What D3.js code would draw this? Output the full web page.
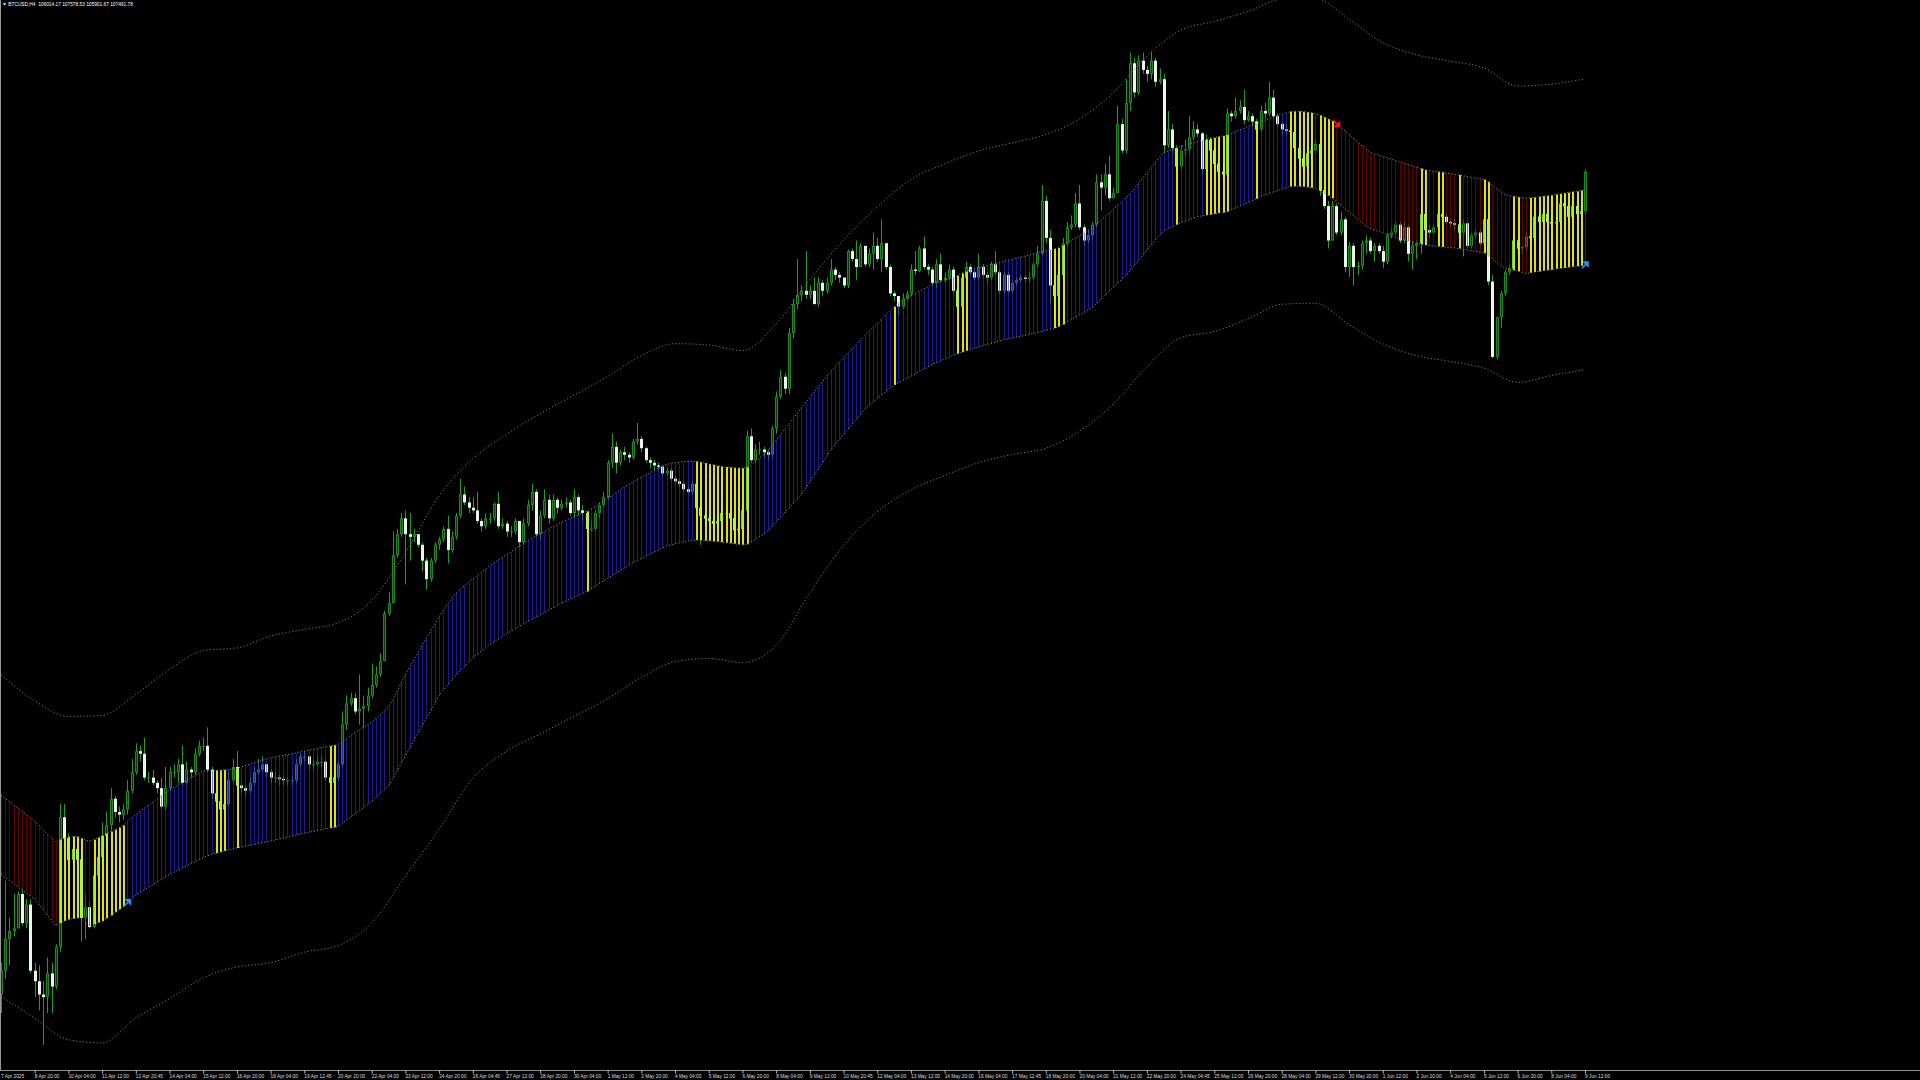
<!DOCTYPE html>
<html><head><meta charset="utf-8">
<script src="https://cdn.jsdelivr.net/npm/d3@7"></script>
<style>html,body{margin:0;padding:0;background:#000;overflow:hidden}svg{display:block}</style>
</head><body><svg id="c" width="1920" height="1080"></svg>
<script>
// ---------- DATA (prices in thousands USD, BTCUSD H4) ----------
const header = "BTCUSD,H4  106014.17 107578.53 105901.67 107491.78";
const firstOpen = 76.4;
const closes = [
77.3,78.5,78.8,78.9,80.2,79.1,79.8,77.3,76.9,76.4,
76.3,77.2,76.7,78.2,83.1,82.3,81.5,81.9,81.5,79.3,
79.7,78.95,80.9,81.6,82.4,82.8,83.8,83.3,83.2,83.4,
84.1,84.8,85.6,85.5,84.6,84.6,84.4,84.2,83.5,84.2,
84.8,84.8,85.1,84.4,84.9,84.8,85.5,85.8,85.8,84.9,
84.0,83.7,83.4,83.6,84.5,85.0,84.3,84.2,84.1,84.4,
84.8,84.9,85.1,84.8,84.6,84.6,84.55,84.5,84.5,84.5,
85.1,85.4,85.4,85.1,85.1,85.2,85.2,84.6,84.4,84.6,
85.1,86.6,87.4,87.6,87.1,87.2,87.3,87.7,88.1,88.5,
89.0,90.8,91.2,93.0,93.8,94.4,93.8,93.7,93.8,93.4,
92.8,92.1,92.8,93.4,93.6,94.0,93.2,93.7,94.5,95.3,
95.0,94.8,94.7,94.3,94.1,94.4,94.4,94.95,94.1,94.2,
93.9,93.9,94.3,93.5,94.2,94.9,95.4,93.8,94.5,95.1,
94.4,95.1,94.8,94.95,95.0,94.6,95.2,94.7,94.6,94.0,
94.0,94.6,94.9,95.2,96.5,97.1,96.5,96.9,96.8,96.7,
97.3,97.4,97.05,96.6,96.5,96.4,96.35,96.1,96.2,95.9,
95.8,95.7,95.5,95.4,95.7,94.8,94.5,94.4,94.3,94.2,
94.3,94.6,94.6,94.4,93.95,94.0,94.7,97.5,96.6,97.0,
97.0,96.9,96.8,97.8,99.0,99.75,99.3,101.4,102.5,102.85,
103.0,102.85,103.0,102.5,103.3,103.0,103.3,103.8,103.6,103.5,
103.2,104.5,104.2,103.9,104.7,104.0,104.4,104.7,104.2,104.8,
103.9,102.9,102.8,102.4,102.7,102.9,103.8,103.75,104.6,103.9,
103.8,103.3,104.0,103.4,103.5,103.8,103.0,102.4,103.5,103.9,
103.7,103.5,103.9,103.6,103.5,104.0,103.7,103.0,103.6,103.0,
103.3,103.4,103.5,103.45,103.5,104.0,104.4,106.4,105.0,103.2,
102.8,103.6,104.8,105.4,105.5,106.3,105.4,104.9,105.1,105.5,
107.1,106.9,107.4,106.5,106.7,109.3,108.3,110.1,111.6,110.5,
111.7,111.35,111.2,111.7,110.9,111.0,108.5,109.1,108.4,107.7,
108.3,108.35,108.8,109.1,108.95,107.6,108.7,108.3,107.8,107.5,
107.4,109.7,109.6,109.8,109.95,109.45,109.6,109.4,109.1,109.8,
109.7,110.3,109.6,109.3,109.1,109.05,109.0,108.4,108.0,107.7,
108.2,108.3,108.55,106.8,106.2,104.9,106.2,105.2,105.7,103.9,
104.7,103.9,103.95,104.8,104.9,104.5,104.7,104.5,104.1,105.1,
105.2,105.5,104.9,105.4,104.4,104.7,104.8,105.9,105.3,105.2,
105.4,105.9,105.8,105.6,105.55,105.5,105.2,105.55,104.7,105.1,
105.2,104.8,105.7,103.35,100.5,102.0,102.9,103.7,103.85,104.9,
104.6,104.65,105.05,105.0,105.8,105.6,105.9,105.6,105.55,105.6,
106.3,106.2,105.8,106.2,105.9,106.01417,107.49178];
const highs = [
77.6,80.7,79.3,80.2,80.3,80.4,80.0,80.0,77.6,77.5,
76.9,77.8,77.6,78.3,83.6,83.6,82.5,82.2,82.0,81.7,
80.2,79.9,81.2,81.9,82.9,83.3,84.2,83.9,83.5,83.6,
84.5,85.3,85.9,85.8,86.1,84.8,84.9,84.5,84.6,85.0,
85.0,85.1,85.3,85.8,85.2,85.0,85.7,86.0,86.1,86.5,
85.0,84.1,83.9,83.8,84.8,85.3,85.6,84.4,84.3,84.6,
85.0,85.3,85.4,85.1,84.9,84.8,84.7,84.7,84.6,84.7,
85.3,85.5,85.6,85.4,85.3,85.4,85.4,85.3,84.7,84.8,
85.2,87.1,87.7,87.8,87.8,88.5,87.7,88.0,88.9,88.8,
89.3,90.9,91.6,93.9,94.0,94.6,94.7,94.6,94.0,93.8,
93.5,92.9,92.9,93.5,93.7,94.1,94.5,93.9,94.6,95.9,
95.6,95.2,95.2,95.4,94.4,94.6,94.6,95.0,95.4,94.4,
94.3,94.1,94.4,94.3,94.4,95.1,95.7,95.5,94.7,95.5,
95.3,95.3,95.2,95.1,95.2,95.1,95.5,95.3,94.9,94.6,
94.3,94.7,95.0,95.4,96.6,97.6,97.3,97.0,97.1,96.9,
97.4,98.0,97.5,97.1,96.7,96.6,96.5,96.4,96.3,96.3,
96.0,95.9,95.8,95.6,95.8,95.8,94.9,94.6,94.5,94.4,
94.5,94.8,94.8,94.7,94.5,94.2,94.9,97.7,97.8,97.2,
97.3,97.1,97.0,97.9,99.2,100.0,99.9,101.6,102.7,104.2,
103.2,104.5,103.2,103.5,103.5,103.4,103.5,104.2,103.9,103.7,
103.5,104.55,104.6,104.9,104.8,104.7,104.6,105.2,105.0,105.7,
104.8,104.0,103.0,102.8,102.9,103.0,104.0,104.5,104.7,105.05,
104.0,103.9,104.2,104.4,103.7,104.0,103.9,103.1,103.7,104.1,
104.0,103.8,104.4,104.0,103.7,104.1,104.5,103.8,103.7,103.7,
103.4,103.5,103.6,103.6,103.7,104.1,104.7,107.0,106.6,105.3,
103.6,103.9,105.0,105.6,105.85,106.7,107.0,105.5,105.3,105.6,
107.4,107.4,107.8,108.1,106.9,110.0,109.5,111.0,112.0,111.8,
111.9,112.0,111.5,112.04,111.8,111.4,111.2,109.8,109.3,108.5,
108.5,108.7,109.6,109.4,109.3,109.0,108.9,108.8,108.4,107.9,
107.8,109.9,109.8,110.3,110.2,110.6,109.8,109.7,109.5,110.0,
110.1,110.9,110.6,109.7,109.4,109.3,109.2,109.0,108.6,108.2,
108.4,108.5,108.7,108.6,106.9,106.4,106.4,106.3,106.0,105.8,
104.85,104.8,104.1,104.9,105.1,105.0,104.8,104.8,104.7,105.2,
105.4,105.6,105.6,105.6,105.5,104.9,104.9,106.4,106.0,105.5,
105.5,106.1,106.0,105.9,105.7,105.7,105.6,105.7,105.6,105.2,
105.3,105.3,105.9,106.0,103.6,102.0,103.0,103.8,104.0,105.0,
105.0,104.7,105.2,105.3,106.0,105.9,106.1,106.0,105.8,105.8,
106.5,106.5,106.3,106.3,106.2,106.3,107.57853];
const lows = [
75.7,77.0,77.5,78.6,78.9,79.0,78.9,77.2,76.3,75.8,
74.5,75.7,75.7,76.6,78.0,82.2,81.3,81.3,81.3,78.4,
78.5,78.9,78.9,80.6,81.4,82.2,82.6,83.1,82.9,83.0,
83.2,84.0,84.7,85.2,84.5,84.4,84.3,84.0,83.4,83.4,
84.1,84.6,84.4,84.3,84.3,84.6,84.7,85.4,85.6,84.8,
83.8,83.5,83.2,83.3,83.5,84.4,84.2,84.0,83.9,84.0,
84.3,84.7,84.8,84.6,84.4,84.4,84.3,84.3,84.3,84.3,
84.4,85.0,85.2,84.9,84.9,85.0,85.0,84.5,84.2,84.2,
84.5,85.0,86.4,87.3,87.0,86.6,86.5,87.1,87.6,88.0,
88.4,89.0,90.7,91.2,92.9,93.7,91.9,92.8,93.5,93.3,
92.4,91.7,92.0,92.7,93.2,93.5,92.7,93.1,93.6,94.4,
94.9,94.6,94.6,94.2,93.9,94.0,94.2,94.3,94.0,94.0,
93.7,93.7,93.8,93.3,93.4,94.1,94.7,93.7,93.6,94.4,
94.2,94.3,94.6,94.7,94.8,94.5,94.4,94.5,94.3,93.8,
93.9,93.9,94.4,94.8,95.1,96.3,96.1,96.4,96.6,96.5,
96.6,97.2,96.9,96.5,96.3,96.2,96.2,96.0,96.0,95.8,
95.7,95.6,95.4,95.3,95.3,94.7,93.4,94.2,94.1,94.0,
94.1,94.2,94.4,94.3,93.5,93.8,93.9,94.6,96.5,96.5,
96.8,96.7,96.6,96.7,97.6,98.9,99.1,99.1,101.2,102.3,
102.6,102.7,102.7,102.47,102.4,102.8,102.9,103.2,103.4,103.3,
103.1,103.1,104.1,103.4,103.9,103.9,103.9,103.8,104.1,103.7,
103.8,102.8,102.6,102.1,102.3,102.6,102.8,103.6,103.7,103.8,
103.6,103.2,103.1,103.3,103.3,103.4,102.9,102.3,102.3,103.4,
103.6,103.4,103.4,103.5,103.3,103.4,103.6,102.9,102.9,102.9,
102.9,103.2,103.3,103.3,103.3,103.4,103.9,104.3,104.8,102.5,
101.9,102.6,103.4,104.7,105.3,105.4,105.3,104.7,104.8,104.9,
105.4,106.05,106.6,106.4,106.5,106.7,108.2,108.2,109.8,110.3,
110.4,111.2,110.9,111.0,110.7,110.8,108.2,108.4,108.2,107.5,
107.6,108.1,108.2,108.7,108.8,107.4,107.4,108.0,107.6,107.3,
107.2,107.3,109.4,109.5,109.7,109.3,109.4,109.2,108.9,109.0,
109.5,109.6,109.5,109.2,108.9,108.9,108.8,108.2,107.8,107.5,
107.6,108.0,108.3,106.6,106.1,104.6,104.9,105.1,105.1,103.7,
103.53,103.2,103.6,103.8,104.4,104.4,104.1,104.4,103.85,104.0,
105.0,105.1,104.8,104.8,104.1,103.8,104.2,104.4,105.1,105.0,
105.2,105.3,105.6,105.5,105.4,105.3,105.0,104.3,104.6,104.6,
105.0,104.7,104.7,103.2,100.45,100.4,101.6,102.8,103.6,103.8,
104.4,104.4,104.5,104.8,104.9,105.5,105.5,105.4,105.4,105.4,
105.5,106.0,105.6,105.7,105.8,105.8,105.90167];
const bandTop = [
83.93,83.81,83.69,83.56,83.44,83.32,83.2,83.07,82.95,82.79,
82.63,82.47,82.31,82.15,82.25,82.32,82.36,82.37,82.37,82.3,
82.24,82.2,82.25,82.33,82.4,82.48,82.56,82.63,82.71,82.79,
82.93,83.07,83.2,83.32,83.44,83.55,83.67,83.79,83.91,84.02,
84.14,84.23,84.32,84.41,84.5,84.59,84.67,84.76,84.85,84.86,
84.86,84.87,84.88,84.89,84.9,84.92,84.95,85.0,85.05,85.1,
85.15,85.2,85.25,85.3,85.35,85.38,85.41,85.44,85.47,85.5,
85.53,85.57,85.6,85.63,85.66,85.7,85.73,85.76,85.79,85.82,
85.85,85.96,86.07,86.19,86.3,86.4,86.5,86.6,86.7,86.84,
86.98,87.13,87.27,87.55,87.85,88.18,88.5,88.78,89.05,89.33,
89.6,89.88,90.15,90.42,90.68,90.93,91.16,91.37,91.56,91.72,
91.86,91.99,92.11,92.23,92.35,92.48,92.6,92.71,92.82,92.92,
93.03,93.13,93.24,93.34,93.45,93.55,93.64,93.73,93.81,93.9,
93.99,94.08,94.16,94.25,94.32,94.39,94.45,94.52,94.59,94.66,
94.75,94.84,94.95,95.05,95.16,95.26,95.37,95.47,95.58,95.68,
95.77,95.86,95.95,96.03,96.12,96.2,96.29,96.38,96.44,96.47,
96.5,96.52,96.54,96.55,96.55,96.55,96.52,96.49,96.45,96.42,
96.38,96.36,96.34,96.32,96.31,96.3,96.29,96.32,96.42,96.54,
96.67,96.8,96.95,97.15,97.35,97.55,97.76,97.96,98.16,98.37,
98.58,98.78,98.97,99.17,99.37,99.56,99.76,99.95,100.14,100.31,
100.47,100.64,100.8,100.97,101.14,101.3,101.46,101.62,101.77,101.93,
102.09,102.25,102.4,102.53,102.64,102.73,102.81,102.9,102.98,103.07,
103.15,103.24,103.31,103.36,103.4,103.45,103.49,103.57,103.65,103.72,
103.8,103.84,103.88,103.92,103.95,103.99,104.03,104.07,104.11,104.15,
104.19,104.23,104.27,104.31,104.35,104.39,104.43,104.47,104.51,104.55,
104.58,104.62,104.71,104.81,104.9,105.0,105.09,105.19,105.28,105.38,
105.52,105.66,105.8,105.94,106.08,106.22,106.36,106.5,106.66,106.86,
107.06,107.26,107.46,107.66,107.86,108.06,108.22,108.28,108.34,108.39,
108.45,108.5,108.55,108.6,108.65,108.68,108.72,108.75,108.78,108.82,
108.85,108.89,108.95,109.02,109.08,109.14,109.21,109.27,109.33,109.4,
109.46,109.51,109.56,109.62,109.67,109.72,109.77,109.78,109.78,109.77,
109.75,109.73,109.69,109.63,109.56,109.49,109.42,109.33,109.19,109.05,
108.91,108.77,108.63,108.49,108.35,108.24,108.18,108.13,108.08,108.03,
107.98,107.92,107.87,107.82,107.77,107.72,107.67,107.62,107.57,107.55,
107.52,107.5,107.48,107.45,107.43,107.41,107.38,107.35,107.32,107.29,
107.26,107.23,107.2,107.12,107.0,106.87,106.75,106.64,106.6,106.57,
106.54,106.52,106.5,106.51,106.53,106.55,106.57,106.59,106.61,106.64,
106.66,106.69,106.71,106.74,106.76,106.79,106.81];
const bandBot = [
80.94,80.82,80.71,80.59,80.47,80.35,80.24,80.12,80.0,79.8,
79.6,79.4,79.2,79.0,79.1,79.18,79.24,79.27,79.29,79.3,
79.15,79.0,79.06,79.12,79.17,79.28,79.39,79.51,79.62,79.73,
79.87,80.02,80.16,80.26,80.36,80.45,80.55,80.65,80.75,80.84,
80.94,81.02,81.1,81.18,81.26,81.34,81.42,81.5,81.58,81.64,
81.7,81.74,81.78,81.83,81.87,81.9,81.94,81.97,82.01,82.04,
82.07,82.1,82.14,82.17,82.2,82.24,82.28,82.31,82.35,82.39,
82.43,82.46,82.5,82.53,82.56,82.59,82.63,82.66,82.69,82.72,
82.75,82.87,82.99,83.11,83.23,83.34,83.46,83.58,83.7,83.85,
84.0,84.14,84.29,84.57,84.85,85.14,85.42,85.71,85.99,86.28,
86.56,86.85,87.13,87.42,87.7,87.9,88.09,88.29,88.48,88.64,
88.8,88.96,89.12,89.25,89.37,89.5,89.62,89.73,89.83,89.94,
90.04,90.13,90.22,90.32,90.41,90.5,90.58,90.67,90.75,90.84,
90.93,91.01,91.1,91.19,91.26,91.34,91.41,91.48,91.56,91.63,
91.73,91.83,91.93,92.03,92.13,92.23,92.33,92.43,92.52,92.62,
92.72,92.8,92.88,92.96,93.04,93.12,93.2,93.28,93.35,93.39,
93.43,93.47,93.51,93.54,93.57,93.58,93.57,93.56,93.55,93.53,
93.52,93.5,93.48,93.46,93.44,93.42,93.4,93.42,93.5,93.6,
93.7,93.8,93.92,94.09,94.26,94.43,94.6,94.78,94.95,95.12,
95.3,95.54,95.78,96.02,96.26,96.5,96.74,96.98,97.19,97.38,
97.57,97.76,97.95,98.14,98.33,98.52,98.67,98.8,98.93,99.06,
99.18,99.31,99.44,99.52,99.6,99.69,99.77,99.86,99.95,100.04,
100.12,100.21,100.28,100.35,100.42,100.49,100.56,100.62,100.68,100.73,
100.78,100.83,100.87,100.92,100.97,101.01,101.06,101.11,101.15,101.18,
101.21,101.25,101.28,101.31,101.35,101.38,101.42,101.46,101.5,101.55,
101.59,101.64,101.73,101.82,101.91,102.0,102.09,102.18,102.27,102.36,
102.51,102.66,102.82,102.97,103.12,103.28,103.43,103.58,103.76,103.95,
104.14,104.34,104.53,104.72,104.92,105.11,105.26,105.34,105.42,105.5,
105.57,105.63,105.69,105.75,105.8,105.83,105.86,105.88,105.91,105.94,
105.96,105.99,106.06,106.13,106.2,106.27,106.34,106.41,106.48,106.55,
106.62,106.67,106.73,106.78,106.84,106.89,106.94,106.95,106.95,106.94,
106.92,106.9,106.86,106.78,106.69,106.6,106.5,106.37,106.24,106.1,
105.97,105.84,105.71,105.58,105.45,105.35,105.3,105.24,105.19,105.14,
105.08,105.03,104.97,104.92,104.88,104.84,104.8,104.77,104.73,104.71,
104.7,104.68,104.66,104.65,104.63,104.62,104.6,104.57,104.54,104.51,
104.49,104.46,104.43,104.33,104.2,104.07,103.95,103.86,103.82,103.78,
103.74,103.7,103.66,103.68,103.71,103.73,103.76,103.78,103.8,103.83,
103.85,103.87,103.89,103.91,103.93,103.95,103.97];
// outer envelope, read every 8th bar
const outerStep = 8;
const outerUp = [88.48,87.5,86.91,86.95,87.75,88.69,89.4,89.5,89.95,90.2,90.45,91.3,93.1,95.25,96.65,97.58,98.36,99.05,99.76,100.55,101.0,100.95,100.74,101.75,103.42,104.92,106.17,107.21,107.8,108.28,108.59,108.91,109.49,110.48,111.86,112.85,113.18,113.56,114.02,114.04,113.26,112.38,111.92,111.68,111.42,110.74,110.81,111.01];
const outerDn = [76.34,75.5,74.69,74.57,75.51,76.24,77.03,77.44,77.6,78.0,78.25,79.1,80.87,82.65,84.57,85.6,86.25,86.91,87.58,88.38,88.98,89.1,88.95,89.6,91.58,93.37,94.65,95.47,96.02,96.5,96.81,97.05,97.69,98.72,100.13,101.22,101.46,101.94,102.49,102.53,101.72,100.99,100.55,100.33,100.08,99.54,99.8,100.02];
// band colour state per bar: R = down (dark red), Y = inside (yellow), B = up (blue)
const stateRuns = [["R",14],["Y",6],["R",2],["Y",8],["B",21],["Y",3],["B",2],["Y",1],["B",21],["Y",2],["B",59],["Y",1],["B",25],["Y",13],["B",34],["Y",1],["B",14],["Y",3],["B",20],["Y",3],["B",26],["Y",1],["B",6],["Y",6],["B",6],["Y",1],["B",7],["Y",6],["B",1],["Y",4],["R",20],["Y",2],["R",2],["Y",2],["R",3],["Y",1],["R",5],["Y",2],["R",5],["Y",2],["R",2],["Y",13],["B",1]];
const signals = [{bar:30,dir:"up"},{bar:317,dir:"down"},{bar:376,dir:"up"}];
const tickStep = 8;
const tickLabels = ["7 Apr 2025","8 Apr 20:00","10 Apr 04:00","11 Apr 12:00","12 Apr 20:45","14 Apr 04:00","15 Apr 12:00","16 Apr 20:00","18 Apr 04:00","19 Apr 12:45","20 Apr 20:00","22 Apr 04:00","23 Apr 12:00","24 Apr 20:00","26 Apr 04:45","27 Apr 12:00","28 Apr 20:00","30 Apr 04:00","1 May 12:00","2 May 20:00","4 May 04:00","5 May 12:00","6 May 20:00","8 May 04:00","9 May 12:00","10 May 20:45","12 May 04:00","13 May 12:00","14 May 20:00","16 May 04:00","17 May 12:45","18 May 20:00","20 May 04:00","21 May 12:00","22 May 20:00","24 May 04:45","25 May 12:00","26 May 20:00","28 May 04:00","29 May 12:00","30 May 20:00","1 Jun 12:00","2 Jun 20:00","4 Jun 04:00","5 Jun 12:00","6 Jun 20:00","8 Jun 04:00","9 Jun 12:00"];

// ---------- CHART ----------
const N = closes.length;
const opens = closes.map((c,i)=> i===0 ? firstOpen : closes[i-1]);
const states = stateRuns.flatMap(([s,n]) => Array(n).fill(s));
const plotH = 1070;
const x = d3.scaleLinear().domain([0, N-1]).range([1, 1585]);
const y = d3.scaleLinear().domain([73.546, 113.992]).range([plotH, 0]);
const col = i => Math.round(x(i));

const svg = d3.select("#c");
svg.append("rect").attr("width",1920).attr("height",1080).attr("fill","#000");
svg.append("defs").append("clipPath").attr("id","clip")
  .append("rect").attr("x",0).attr("y",0).attr("width",1920).attr("height",plotH);
const g = svg.append("g").attr("clip-path","url(#clip)");

// candles
const cg = g.append("g");
const idx = d3.range(N);
const hiY = i => y(Math.max(highs[i], opens[i], closes[i]));
const loY = i => y(Math.min(lows[i], opens[i], closes[i]));
cg.selectAll("rect.wick").data(idx).join("rect").attr("class","wick")
  .attr("x", i => col(i)).attr("width", 1)
  .attr("y", hiY)
  .attr("height", i => Math.max(1, loY(i) - hiY(i)))
  .attr("fill", "#1f9f1f");
cg.selectAll("rect.body").data(idx).join("rect").attr("class","body")
  .attr("x", i => col(i) - 1).attr("width", 3)
  .attr("y", i => y(Math.max(opens[i], closes[i])))
  .attr("height", i => Math.max(1, Math.abs(y(opens[i]) - y(closes[i]))))
  .attr("fill", i => closes[i] >= opens[i] ? "#1c8c1c" : "#e8f8e8");
cg.selectAll("rect.core").data(idx.filter(i => closes[i] >= opens[i] && Math.abs(y(opens[i]) - y(closes[i])) > 2)).join("rect").attr("class","core")
  .attr("x", i => col(i)).attr("width", 1)
  .attr("y", i => y(closes[i]) + 1)
  .attr("height", i => Math.abs(y(opens[i]) - y(closes[i])) - 2)
  .attr("fill", "#063e06");

// band histogram (drawn over candles, semi-transparent)
const bandCol = {B:"#2c2cff", R:"#a30000", Y:"#ffff10"};
const bandOp = {B:0.6, R:0.6, Y:0.88};
g.append("g").selectAll("rect").data(idx).join("rect")
  .attr("x", i => col(i))
  .attr("width", i => states[i] === "Y" ? 2 : 1)
  .attr("y", i => y(bandTop[i]))
  .attr("height", i => y(bandBot[i]) - y(bandTop[i]))
  .attr("fill", i => bandCol[states[i]])
  .attr("fill-opacity", i => bandOp[states[i]]);

// lime tint where candle bodies sit inside yellow bars
const limeBars = idx.filter(i => states[i] === "Y").map(i => {
  const top = Math.min(Math.max(opens[i], closes[i]), bandTop[i]);
  const bot = Math.max(Math.min(opens[i], closes[i]), bandBot[i]);
  return {i, top, bot};
}).filter(d => d.top > d.bot);
g.append("g").selectAll("rect").data(limeBars).join("rect")
  .attr("x", d => col(d.i) - 1).attr("width", 3)
  .attr("y", d => y(d.top))
  .attr("height", d => Math.max(1, y(d.bot) - y(d.top)))
  .attr("fill", "#9ef01e").attr("fill-opacity", 0.72);

// dotted band borders
const bandLine = arr => d3.line().x((d,i) => x(i)).y(d => y(d))(arr);
g.append("path").attr("d", bandLine(bandTop)).attr("fill","none").attr("stroke","#8a8a8a").attr("stroke-width",1).attr("stroke-dasharray","1.2,2");
g.append("path").attr("d", bandLine(bandBot)).attr("fill","none").attr("stroke","#8a8a8a").attr("stroke-width",1).attr("stroke-dasharray","1.2,2");
// outer dotted envelopes
const outerLine = d3.line().x((d,i) => x(i*outerStep)).y(d => y(d)).curve(d3.curveMonotoneX);
g.append("path").attr("d", outerLine(outerUp)).attr("fill","none").attr("stroke","#777").attr("stroke-width",1).attr("stroke-dasharray","1.2,2.2");
g.append("path").attr("d", outerLine(outerDn)).attr("fill","none").attr("stroke","#777").attr("stroke-width",1).attr("stroke-dasharray","1.2,2.2");

// signal arrows
signals.forEach(s => {
  const cx = x(s.bar);
  if (s.dir === "up") {
    const cy = y(bandBot[s.bar]);
    g.append("path").attr("transform",`translate(${cx},${cy})`)
      .attr("d","M-3,3 L1,-1 M-1,-3 L3,-3 L3,1 Z").attr("stroke","#1e90ff").attr("stroke-width",1.6).attr("fill","#1e90ff");
  } else {
    const cy = y(bandTop[s.bar]);
    g.append("path").attr("transform",`translate(${cx},${cy})`)
      .attr("d","M-3,-3 L1,1 M-1,3 L3,3 L3,-1 Z").attr("stroke","#ff1010").attr("stroke-width",1.6).attr("fill","#ff1010");
  }
});

// left border & bottom axis line
svg.append("rect").attr("x",0).attr("y",0).attr("width",1).attr("height",plotH+1).attr("fill","#9a9a9a");
svg.append("rect").attr("x",0).attr("y",plotH).attr("width",1920).attr("height",1).attr("fill","#909090");

// time axis
const axis = d3.axisBottom(x)
  .tickValues(d3.range(0, N, tickStep))
  .tickFormat((d,i) => tickLabels[i])
  .tickSize(3).tickSizeOuter(0);
const ag = svg.append("g").attr("transform",`translate(0,${plotH + 0.5})`).call(axis);
ag.select(".domain").remove();
ag.selectAll(".tick line").attr("stroke","#bdbdbd").filter((d,i)=>i===0).remove();
ag.selectAll(".tick text")
  .attr("text-anchor","start").attr("x",-0.5).attr("y",3.8).attr("dy","0.71em")
  .attr("fill","#dcdcdc").attr("font-family","'Liberation Sans', Arial, sans-serif").attr("font-size","4.8px");

// header
svg.append("path").attr("d","M3,3.2 L6.2,3.2 L4.6,5.6 Z").attr("fill","#fff");
svg.append("text").attr("x",8.3).attr("y",6.3).attr("fill","#fff")
  .attr("font-family","'Liberation Sans', Arial, sans-serif").attr("font-size","4.8px")
  .style("white-space","pre").text(header);
</script></body></html>
